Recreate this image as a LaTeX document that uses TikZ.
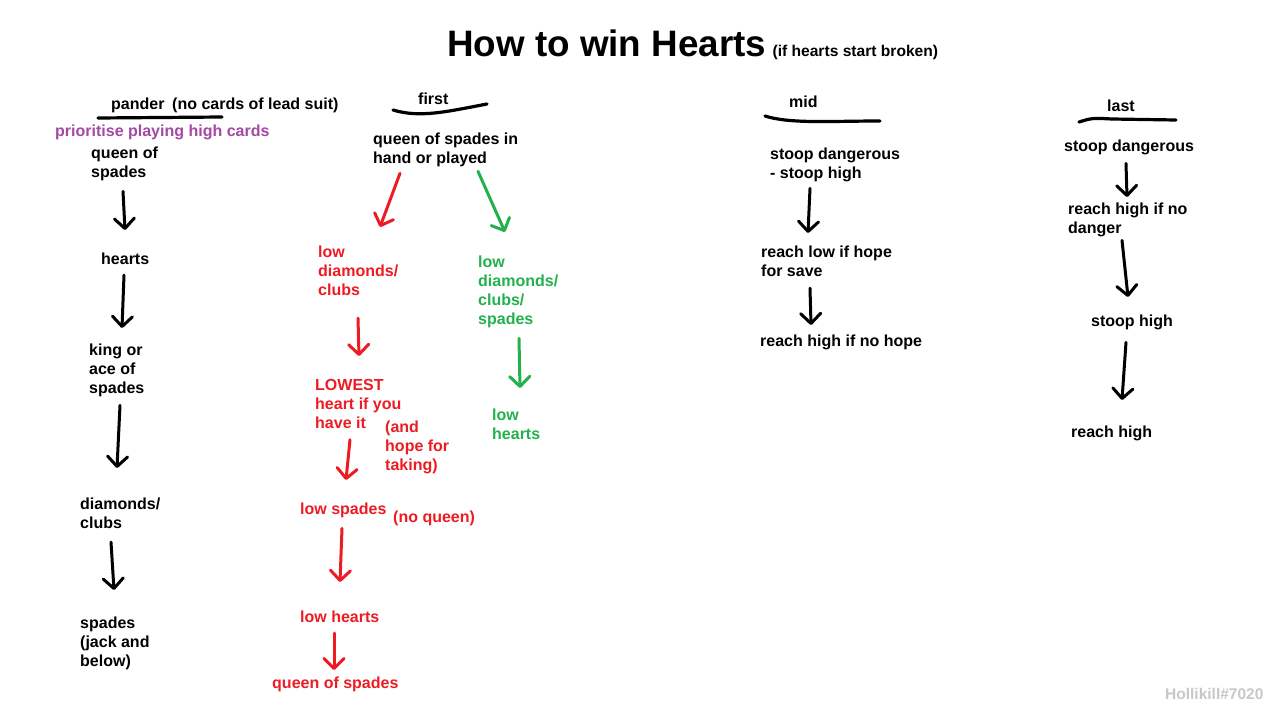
\documentclass[tikz,border=0pt]{standalone}
\usepackage{fontspec}
\setmainfont{Liberation Sans}
\usetikzlibrary{arrows.meta}
\definecolor{paintred}{RGB}{237,28,36}
\definecolor{paintgreen}{RGB}{34,177,76}
\definecolor{paintpurple}{RGB}{163,73,164}
\definecolor{signgrey}{RGB}{200,200,200}

\begin{document}
\begin{tikzpicture}[x=1pt,y=-1pt,
    lbl/.style={anchor=north west,inner sep=0pt,align=left,yshift=-3pt,
      font=\bfseries\fontsize{16}{19}\selectfont},
    arr/.style={line width=3pt,line cap=round,
      -{Straight Barb[length=10pt,width=20pt,round]}},
    uline/.style={line width=3.2pt,line cap=round}]
  \useasboundingbox[fill=white] (0,0) rectangle (1269,707);

  % title
  \node[anchor=base west,inner sep=0pt,font=\bfseries\fontsize{36.8}{40}\selectfont]
    (title) at (447,56) {How to win Hearts};
  \node[anchor=base west,inner sep=0pt,font=\bfseries\fontsize{15.6}{18}\selectfont]
    (sub) at ([xshift=6]title.base east) {(if hearts start broken)};

  % pander column
  \node[lbl] (pander) at (111,95) {pander};
  \node[lbl] (nolead) at (172,95) {(no cards of lead suit)};
  \draw[uline] (98,118) -- (222,117);
  \node[lbl,paintpurple] (prio) at (55,122) {prioritise playing high cards};
  \node[lbl] (p1) at (91,144) {queen of\\spades};
  \node[lbl] (p2) at (101,250) {hearts};
  \node[lbl] (p3) at (89,341) {king or\\ace of\\spades};
  \node[lbl] (p4) at (80,495) {diamonds/\\clubs};
  \node[lbl] (p5) at (80,614) {spades\\(jack and\\below)};
  \draw[arr] ([xshift=32,yshift=-10]p1.south west) -- ([xshift=24,yshift=23]p2.north west);
  \draw[arr] ([xshift=23,yshift=-10]p2.south west) -- ([xshift=33,yshift=16]p3.north west);
  \draw[arr] ([xshift=31,yshift=-8]p3.south west) -- ([xshift=37,yshift=30]p4.north west);
  \draw[arr] ([xshift=31,yshift=-13]p4.south west) -- ([xshift=34,yshift=27]p5.north west);

  % first column
  \node[lbl] (first) at (418,90) {first};
  \draw[uline] (393,110) .. controls (420,118) and (445,112) .. (487,104);
  \node[lbl] (f0) at (373,130) {queen of spades in\\hand or played};
  \node[lbl,paintred] (fr1) at (318,243) {low\\diamonds/\\clubs};
  \node[lbl,paintred] (fr2) at (315,376) {LOWEST\\heart if you\\have it};
  \node[lbl,paintred] (fr2b) at (385,418) {(and\\hope for\\taking)};
  \node[lbl,paintred] (fr3) at (300,500) {low spades};
  \node[lbl,paintred] (fr3b) at (393,508) {(no queen)};
  \node[lbl,paintred] (fr4) at (300,608) {low hearts};
  \node[lbl,paintred] (fr5) at (272,674) {queen of spades};
  \node[lbl,paintgreen] (fg1) at (478,253) {low\\diamonds/\\clubs/\\spades};
  \node[lbl,paintgreen] (fg2) at (492,406) {low\\hearts};
  \draw[arr,paintred] ([xshift=27,yshift=-6]f0.south west) -- ([xshift=62,yshift=19]fr1.north west);
  \draw[arr,paintgreen] ([xshift=105,yshift=-4]f0.south west) -- ([xshift=27,yshift=24]fg1.north west);
  \draw[arr,paintred] ([xshift=40,yshift=-22]fr1.south west) -- ([xshift=44,yshift=23]fr2.north west);
  \draw[arr,paintgreen] ([xshift=41,yshift=-10]fg1.south west) -- ([xshift=28,yshift=21]fg2.north west);
  \draw[arr,paintred] ([xshift=35,yshift=-11]fr2.south west) -- ([xshift=46,yshift=23]fr3.north west);
  \draw[arr,paintred] ([xshift=42,yshift=-10]fr3.south west) -- ([xshift=40,yshift=29]fr4.north west);
  \draw[arr,paintred] ([xshift=34,yshift=-10]fr4.south west) -- ([xshift=62,yshift=7]fr5.north west);

  % mid column
  \node[lbl] (mid) at (789,93) {mid};
  \draw[uline] (765,116) .. controls (790,124) and (830,121) .. (880,121);
  \node[lbl] (m1) at (770,145) {stoop dangerous\\- stoop high};
  \node[lbl] (m2) at (761,243) {reach low if hope\\for save};
  \node[lbl] (m3) at (760,332) {reach high if no hope};
  \draw[arr] ([xshift=40,yshift=-6]m1.south west) -- ([xshift=47,yshift=13]m2.north west);
  \draw[arr] ([xshift=49,yshift=-11]m2.south west) -- ([xshift=51,yshift=10]m3.north west);

  % last column
  \node[lbl] (last) at (1107,97) {last};
  \draw[uline] (1079,122) .. controls (1092,118) .. (1112,119) -- (1176,120);
  \node[lbl] (l1) at (1064,137) {stoop dangerous};
  \node[lbl] (l2) at (1068,200) {reach high if no\\danger};
  \node[lbl] (l3) at (1091,312) {stoop high};
  \node[lbl] (l4) at (1071,423) {reach high};
  \draw[arr] ([xshift=62,yshift=-8]l1.south west) -- ([xshift=59,yshift=6]l2.north west);
  \draw[arr] ([xshift=54,yshift=-3]l2.south west) -- ([xshift=37,yshift=18]l3.north west);
  \draw[arr] ([xshift=35,yshift=-12]l3.south west) -- ([xshift=51,yshift=26]l4.north west);

  \node[lbl,signgrey,font=\bfseries\fontsize{15.5}{18}\selectfont] (sign) at (1165,685) {Hollikill\#7020};
\end{tikzpicture}
\end{document}
